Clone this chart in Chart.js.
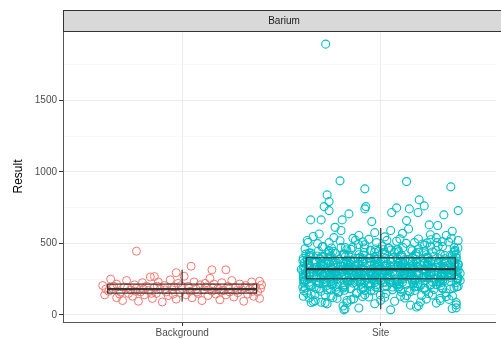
<!DOCTYPE html>
<html>
<head>
<meta charset="utf-8">
<script src="https://cdn.jsdelivr.net/npm/chart.js@4"></script>
<style>
  html, body { margin: 0; padding: 0; background: #fff; }
  #wrap { width: 501px; height: 340px; }
</style>
</head>
<body>
<div id="wrap"><canvas id="grafico" width="501" height="340"></canvas></div>
<script>
// categorias e facetas
const categories = ['Background', 'Site'];
const facetLabel = 'Barium';
const yTitle = 'Result';
const majorTicks = [0, 500, 1000, 1500];
const minorTicks = [250, 750, 1250, 1750];

// resumo do boxplot (por categoria)
const whiskerLow = [93, 40];
const q1 = [152, 252];
const median = [180, 320];
const q3 = [215, 399];
const whiskerHigh = [315, 608];

// pontos (deslocamento do jitter, valor)
const backgroundPoints = [
  [-0.40,205],[-0.37,165],[-0.39,140],[-0.36,250],[-0.35,185],[-0.33,120],[-0.33,215],[-0.31,160],[-0.30,100],[-0.29,195],
  [-0.28,240],[-0.27,150],[-0.26,175],[-0.25,130],[-0.24,210],[-0.23,185],[-0.22,95],[-0.21,160],[-0.20,225],[-0.19,140],
  [-0.18,200],[-0.17,170],[-0.16,265],[-0.15,115],[-0.14,190],[-0.13,150],[-0.12,230],[-0.11,180],[-0.10,90],[-0.09,205],
  [-0.08,160],[-0.07,135],[-0.06,245],[-0.05,175],[-0.04,195],[-0.03,110],[-0.02,220],[-0.01,155],[0.00,185],[0.01,270],
  [0.02,140],[0.03,200],[0.04,165],[0.05,120],[0.06,230],[0.07,180],[0.08,150],[0.09,210],[0.10,100],[0.11,175],
  [0.12,195],[0.13,135],[0.14,255],[0.15,165],[0.16,215],[0.17,145],[0.18,185],[0.19,105],[0.20,225],[0.21,170],
  [0.22,140],[0.23,200],[0.24,160],[0.25,240],[0.26,125],[0.27,190],[0.28,155],[0.29,215],[0.30,175],[0.31,95],
  [0.32,205],[0.33,145],[0.34,180],[0.35,230],[0.36,130],[0.37,195],[0.38,160],[0.39,115],[0.40,210],
  [-0.385,180],[-0.345,200],[-0.315,145],[-0.275,190],[-0.235,165],[-0.195,180],[-0.155,150],[-0.125,200],[-0.085,175],[-0.045,145],
  [-0.005,205],[0.035,185],[0.075,160],[0.115,220],[0.155,190],[0.195,165],[0.235,180],[0.275,170],[0.315,190],[0.355,165],[0.395,185],
  [-0.23,445],[0.045,340],[0.15,315],[-0.03,295],[0.22,315],[0.39,235],[-0.14,268]
];

const sitePoints = [
  [-0.38,312],[-0.29,245],[-0.21,388],[-0.13,276],[-0.05,452],[0.03,198],[0.11,335],[0.19,290],[0.27,410],[0.35,262],
  [-0.36,228],[-0.27,355],[-0.19,301],[-0.11,420],[-0.03,265],[0.05,372],[0.13,215],[0.21,318],[0.29,480],[0.37,340],
  [-0.39,395],[-0.31,182],[-0.23,330],[-0.15,258],[-0.07,365],[0.01,305],[0.09,442],[0.17,240],[0.25,296],[0.33,378],
  [-0.34,268],[-0.26,430],[-0.18,210],[-0.10,342],[-0.02,288],[0.06,398],[0.14,170],[0.22,362],[0.30,248],[0.38,305],
  [-0.37,350],[-0.28,292],[-0.20,470],[-0.12,235],[-0.04,318],[0.04,255],[0.12,385],[0.20,205],[0.28,332],[0.36,415],
  [-0.35,145],[-0.25,322],[-0.17,380],[-0.09,195],[-0.01,350],[0.07,282],[0.15,460],[0.23,270],[0.31,190],[0.39,355],
  [-0.39,285],[-0.30,405],[-0.22,255],[-0.14,310],[-0.06,222],[0.02,425],[0.10,300],[0.18,368],[0.26,232],[0.34,285],
  [-0.33,375],[-0.24,218],[-0.16,345],[-0.08,490],[0.00,260],[0.08,330],[0.16,275],[0.24,395],[0.32,315],[0.40,240],
  [-0.38,240],[-0.29,338],[-0.21,160],[-0.13,398],[-0.05,305],[0.03,352],[0.11,248],[0.19,438],[0.27,280],[0.35,180],
  [-0.36,432],[-0.27,275],[-0.19,315],[-0.11,265],[-0.03,390],[0.05,225],[0.13,320],[0.21,258],[0.29,362],[0.37,470],
  [-0.40,318],[-0.32,262],[-0.24,445],[-0.16,290],[-0.08,170],[0.00,372],[0.08,210],[0.16,308],[0.24,345],[0.32,272],
  [-0.35,205],[-0.26,365],[-0.18,282],[-0.10,325],[-0.02,410],[0.06,300],[0.14,388],[0.22,185],[0.30,425],[0.38,250],
  [-0.37,360],[-0.28,230],[-0.20,340],[-0.12,150],[-0.04,278],[0.04,468],[0.12,292],[0.20,352],[0.28,212],[0.36,330],
  [-0.34,298],[-0.25,410],[-0.17,238],[-0.09,372],[-0.01,318],[0.07,252],[0.15,335],[0.23,420],[0.31,285],[0.39,200],
  [-0.39,255],[-0.31,328],[-0.23,295],[-0.15,458],[-0.07,245],[0.01,285],[0.09,360],[0.17,195],[0.25,378],[0.33,320],
  [-0.36,405],[-0.27,175],[-0.19,360],[-0.11,302],[-0.03,228],[0.05,340],[0.13,275],[0.21,495],[0.29,262],[0.37,385],
  [-0.38,190],[-0.30,350],[-0.22,270],[-0.14,222],[-0.06,395],[0.02,310],[0.10,178],[0.18,280],[0.26,440],[0.34,345],
  [-0.33,330],[-0.24,285],[-0.16,415],[-0.08,312],[0.00,240],[0.08,455],[0.16,230],[0.24,322],[0.32,368],[0.40,290],
  [-0.35,268],[-0.26,448],[-0.18,325],[-0.10,248],[-0.02,355],[0.06,195],[0.14,302],[0.22,268],[0.30,335],[0.38,425],
  [-0.37,380],[-0.29,215],[-0.21,288],[-0.13,345],[-0.05,168],[0.03,265],[0.11,405],[0.19,328],[0.27,250],[0.35,295],
  [-0.392,312],[-0.325,268],[-0.257,405],[-0.188,188],[-0.121,342],[-0.054,296],[0.013,455],[0.082,231],[0.149,378],[0.216,264],[0.283,330],[0.352,419],
  [-0.371,247],[-0.302,389],[-0.236,301],[-0.167,352],[-0.099,214],[-0.031,437],[0.036,279],[0.104,323],[0.171,171],[0.239,398],[0.307,286],[0.374,350],
  [-0.384,365],[-0.314,222],[-0.246,284],[-0.178,470],[-0.110,309],[-0.042,256],[0.025,341],[0.093,198],[0.160,402],[0.228,318],[0.296,241],[0.363,375],
  [-0.362,290],[-0.291,348],[-0.225,176],[-0.157,316],[-0.088,393],[-0.020,262],[0.047,228],[0.115,361],[0.183,305],[0.250,482],[0.318,270],[0.386,335],
  [-0.377,425],[-0.309,305],[-0.241,258],[-0.173,382],[-0.104,236],[-0.036,325],[0.031,290],[0.099,412],[0.166,262],[0.234,349],[0.301,204],[0.369,297],
  [-0.355,198],[-0.287,276],[-0.219,359],[-0.151,242],[-0.083,468],[-0.015,300],[0.052,371],[0.120,285],[0.188,219],[0.255,330],[0.323,392],[0.390,255],
  [-0.388,338],[-0.319,412],[-0.252,293],[-0.183,207],[-0.116,355],[-0.048,272],[0.019,438],[0.087,249],[0.155,321],[0.222,188],[0.290,366],[0.357,308],
  [-0.366,261],[-0.297,320],[-0.230,384],[-0.162,331],[-0.094,278],[-0.026,195],[0.041,312],[0.109,356],[0.177,428],[0.244,270],[0.312,243],[0.380,401],
  [-0.392,379],[-0.325,185],[-0.257,267],[-0.188,425],[-0.121,302],[-0.054,348],[0.013,226],[0.082,392],[0.149,281],[0.216,315],[0.283,505],[0.352,232],
  [-0.371,302],[-0.302,358],[-0.236,238],[-0.167,294],[-0.099,176],[-0.031,403],[0.036,265],[0.104,334],[0.171,245],[0.239,370],[0.307,286],[0.374,452],
  [-0.384,234],[-0.314,446],[-0.246,322],[-0.178,360],[-0.110,289],[-0.042,252],[0.025,396],[0.093,217],[0.160,343],[0.228,299],[0.296,231],[0.363,318],
  [-0.362,352],[-0.291,276],[-0.225,194],[-0.157,315],[-0.088,418],[-0.020,333],[0.047,280],[0.115,307],[0.183,369],[0.250,211],[0.318,338],[0.386,274],
  [-0.377,283],[-0.309,392],[-0.241,347],[-0.173,256],[-0.104,230],[-0.036,287],[0.031,521],[0.099,346],[0.166,259],[0.234,404],[0.301,265],[0.369,190],
  [-0.355,416],[-0.287,228],[-0.219,305],[-0.151,382],[-0.083,266],[-0.015,375],[0.052,242],[0.120,288],[0.188,196],[0.255,326],[0.323,415],[0.390,348],
  [-0.388,269],[-0.319,335],[-0.252,251],[-0.183,172],[-0.116,394],[-0.048,218],[0.019,339],[0.087,455],[0.155,312],[0.222,238],[0.290,297],[0.357,381],
  [-0.366,327],[-0.297,290],[-0.230,431],[-0.162,309],[-0.094,246],[-0.026,460],[0.041,306],[0.109,265],[0.177,387],[0.244,281],[0.312,356],[0.380,224],
  [-0.392,195],[-0.325,368],[-0.257,281],[-0.188,338],[-0.121,320],[-0.054,199],[0.013,374],[0.082,238],[0.149,302],[0.216,443],[0.283,210],[0.352,286],
  [-0.371,388],[-0.302,252],[-0.236,362],[-0.167,228],[-0.099,290],[-0.031,348],[0.036,267],[0.104,419],[0.171,249],[0.239,331],[0.307,276],[0.374,364],
  [-0.384,244],[-0.314,315],[-0.246,210],[-0.178,406],[-0.110,355],[-0.042,283],[0.025,228],[0.093,318],[0.160,374],[0.228,262],[0.296,392],[0.363,302],
  [-0.362,343],[-0.291,478],[-0.225,296],[-0.157,266],[-0.088,187],[-0.020,391],[0.047,335],[0.115,256],[0.183,292],[0.250,206],[0.318,324],[0.386,258],
  [-0.377,281],[-0.309,224],[-0.241,379],[-0.173,319],[-0.104,402],[-0.036,241],[0.031,303],[0.099,370],[0.166,218],[0.234,357],[0.301,268],[0.369,436],
  [-0.355,406],[-0.287,357],[-0.219,247],[-0.151,185],[-0.083,276],[-0.015,316],[0.052,454],[0.120,288],[0.188,333],[0.255,295],[0.323,240],[0.390,314],
  [-0.388,226],[-0.319,301],[-0.252,331],[-0.183,426],[-0.116,243],[-0.048,368],[0.019,197],[0.087,345],[0.155,271],[0.222,392],[0.290,350],[0.357,273],
  [-0.366,359],[-0.297,265],[-0.230,288],[-0.162,240],[-0.094,371],[-0.026,275],[0.041,313],[0.109,227],[0.177,412],[0.244,256],[0.312,183],[0.380,398],
  [-0.358,295],[-0.290,409],[-0.222,216],[-0.153,353],[-0.086,309],[-0.019,212],[0.048,387],[0.117,274],[0.184,339],[0.251,301],[0.318,329],[0.387,249],
  // faixa 430-540
  [-0.381,462],[-0.318,498],[-0.262,441],[-0.205,518],[-0.142,472],[-0.083,436],[-0.021,505],[0.038,466],[0.097,531],[0.158,448],[0.221,487],[0.279,452],[0.342,510],[0.389,468],
  [-0.352,432],[-0.295,475],[-0.236,540],[-0.171,455],[-0.112,492],[-0.051,448],[0.008,482],[0.069,437],[0.128,500],[0.191,462],[0.252,525],[0.311,478],[0.372,445],
  [-0.366,506],[-0.248,468],[-0.127,522],[-0.009,445],[0.112,470],[0.233,502],[0.356,536],
  // faixa 105-225
  [-0.387,168],[-0.331,142],[-0.272,205],[-0.214,158],[-0.153,182],[-0.092,128],[-0.033,172],[0.027,150],[0.088,188],[0.147,162],[0.206,135],[0.268,178],[0.329,155],[0.383,196],
  [-0.359,212],[-0.301,165],[-0.241,120],[-0.182,196],[-0.123,155],[-0.061,208],[-0.002,138],[0.059,175],[0.121,118],[0.179,200],[0.241,148],[0.302,225],[0.361,132],
  [-0.372,152],[-0.253,178],[-0.136,112],[-0.018,190],[0.104,160],[0.226,172],[0.344,108],
  // cauda inferior
  [-0.36,118],[-0.30,88],[-0.25,132],[-0.19,62],[-0.15,105],[-0.08,140],[-0.03,78],[0.02,122],[0.07,95],[0.13,135],
  [0.18,55],[0.23,110],[0.28,82],[0.33,128],[0.38,70],[-0.33,98],[-0.22,115],[-0.11,48],[0.00,102],[0.10,130],
  [0.20,90],[0.30,115],[0.36,45],[-0.28,140],[-0.06,125],[0.15,68],[0.26,138],[-0.17,85],[0.05,35],[-0.39,130],
  [-0.35,86],[-0.27,77],[-0.18,42],[-0.17,100],[0.19,63],[0.38,86],[0.38,49],[-0.185,35],[-0.34,93],[-0.28,84],[0.30,100],
  // cauda superior
  [-0.37,520],[-0.31,565],[-0.26,505],[-0.20,590],[-0.14,535],[-0.09,510],[-0.03,575],[0.02,545],[0.08,515],[0.14,600],
  [0.19,530],[0.25,560],[0.31,512],[0.36,585],[-0.34,548],[-0.23,612],[-0.11,555],[0.05,590],[0.17,505],[0.28,540],
  [0.39,520],[-0.06,528],[0.11,570],[0.33,555],
  // outliers
  [-0.205,937],[-0.08,881],[0.13,932],[0.353,895],[-0.27,839],[-0.26,792],[-0.285,757],[-0.26,729],[-0.075,757],[-0.08,741],
  [0.194,804],[0.144,741],[0.188,716],[0.219,762],[0.39,729],[0.318,699],[0.08,748],[0.055,716],[-0.353,664],[-0.30,664],
  [-0.16,706],[-0.194,664],[-0.045,652],[0.13,659],[0.244,629],[0.287,625],[-0.277,1893]
];

const pointColors = ['#F8766D', '#00BFC4'];
const fontFamily = '"Liberation Sans", Arial, sans-serif';

function toXY(points, idx) {
  return points.map(p => ({ x: idx + 1 + p[0], y: p[1] }));
}

// faixa cinza com o nome da faceta
const stripPlugin = {
  id: 'strip',
  afterDraw(chart) {
    const { ctx, chartArea } = chart;
    ctx.save();
    ctx.fillStyle = '#D9D9D9';
    ctx.strokeStyle = '#333333';
    ctx.lineWidth = 1;
    ctx.fillRect(chartArea.left, 10, chart.width - chartArea.left + 5, 21);
    ctx.strokeRect(chartArea.left + 0.5, 10.5, chart.width - chartArea.left + 5, 21);
    ctx.fillStyle = '#1A1A1A';
    ctx.font = '10px ' + fontFamily;
    ctx.textAlign = 'center';
    ctx.textBaseline = 'middle';
    ctx.fillText(facetLabel, (chartArea.left + chart.width + 4) / 2, 21);
    ctx.restore();
  }
};

// caixas do boxplot
const boxPlugin = {
  id: 'boxes',
  afterDatasetsDraw(chart) {
    const { ctx, scales: { x, y } } = chart;
    ctx.save();
    ctx.strokeStyle = '#333333';
    categories.forEach((c, i) => {
      const cx = x.getPixelForValue(i + 1);
      const l = x.getPixelForValue(i + 1 - 0.375);
      const r = x.getPixelForValue(i + 1 + 0.375);
      const yq1 = y.getPixelForValue(q1[i]);
      const yq3 = y.getPixelForValue(q3[i]);
      ctx.lineWidth = 1.2;
      ctx.beginPath();
      ctx.moveTo(cx, y.getPixelForValue(whiskerHigh[i]));
      ctx.lineTo(cx, yq3);
      ctx.moveTo(cx, yq1);
      ctx.lineTo(cx, y.getPixelForValue(whiskerLow[i]));
      ctx.stroke();
      ctx.strokeRect(l, yq3, r - l, yq1 - yq3);
      ctx.lineWidth = 2.2;
      ctx.beginPath();
      ctx.moveTo(l, y.getPixelForValue(median[i]));
      ctx.lineTo(r, y.getPixelForValue(median[i]));
      ctx.stroke();
    });
    ctx.restore();
  }
};

const ctxGrafico = document.getElementById('grafico');

new Chart(ctxGrafico, {
  type: 'scatter',
  data: {
    datasets: [
      {
        label: categories[0],
        data: toXY(backgroundPoints, 0),
        borderColor: pointColors[0],
        backgroundColor: 'rgba(0,0,0,0)',
        pointRadius: 4,
        borderWidth: 1
      },
      {
        label: categories[1],
        data: toXY(sitePoints, 1),
        borderColor: pointColors[1],
        backgroundColor: 'rgba(0,0,0,0)',
        pointRadius: 4,
        borderWidth: 1.1
      }
    ]
  },
  options: {
    responsive: false,
    animation: false,
    devicePixelRatio: 1,
    layout: { padding: { top: 31, left: 0, right: 0, bottom: 0 } },
    plugins: {
      legend: { display: false },
      tooltip: { enabled: false }
    },
    scales: {
      x: {
        type: 'linear',
        min: 0.4,
        max: 2.58,
        afterFit(scale) { scale.height = 18; },
        afterBuildTicks(scale) { scale.ticks = categories.map((c, i) => ({ value: i + 1 })); },
        ticks: {
          callback: (v) => categories[v - 1] || '',
          color: '#4D4D4D',
          font: { family: fontFamily, size: 10 },
          padding: 1,
          maxRotation: 0
        },
        grid: { color: '#EBEBEB', lineWidth: 1, tickLength: 4, tickColor: '#333333' },
        border: { display: true, color: '#555555', width: 1 }
      },
      y: {
        min: -50,
        max: 1985,
        afterFit(scale) { scale.width = 63; },
        afterBuildTicks(scale) {
          scale.ticks = majorTicks.concat(minorTicks).sort((a, b) => a - b).map(v => ({ value: v }));
        },
        ticks: {
          callback: (v) => majorTicks.includes(v) ? v : '',
          color: '#4D4D4D',
          font: { family: fontFamily, size: 10 },
          padding: 2
        },
        grid: {
          color: (c) => majorTicks.includes(c.tick.value) ? '#EBEBEB' : '#F4F4F4',
          lineWidth: (c) => majorTicks.includes(c.tick.value) ? 1 : 0.6,
          tickColor: (c) => majorTicks.includes(c.tick.value) ? '#333333' : 'rgba(0,0,0,0)',
          tickLength: 4
        },
        border: { display: true, color: '#555555', width: 1 },
        title: {
          display: true,
          text: yTitle,
          color: '#000000',
          font: { family: fontFamily, size: 12 },
          padding: { top: 11, bottom: 0 }
        }
      }
    }
  },
  plugins: [boxPlugin, stripPlugin]
});
</script>
</body>
</html>
